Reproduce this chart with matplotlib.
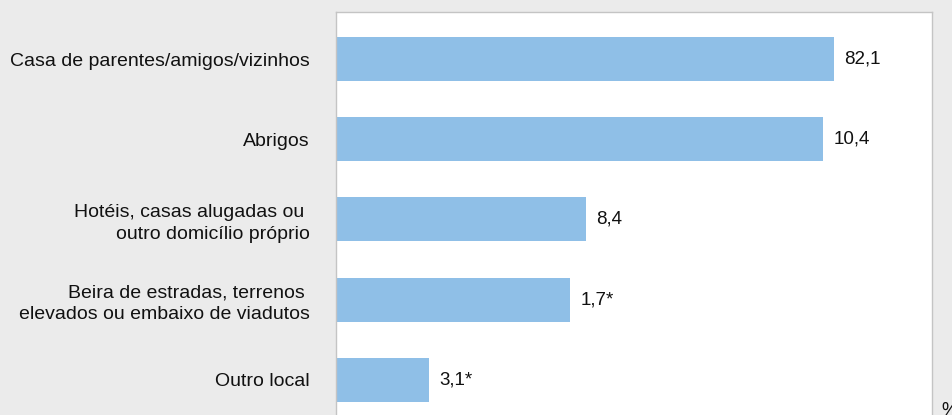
import matplotlib
matplotlib.use("Agg")
import matplotlib.pyplot as plt

# categories and the printed values (Portuguese decimal comma, * = low precision)
categories = [
    "Casa de parentes/amigos/vizinhos",
    "Abrigos",
    "Hotéis, casas alugadas ou \noutro domicílio próprio",
    "Beira de estradas, terrenos \nelevados ou embaixo de viadutos",
    "Outro local",
]
values = [82.1, 10.4, 8.4, 1.7, 3.1]
value_labels = ["82,1", "10,4", "8,4", "1,7*", "3,1*"]
# the source chart is not drawn to scale: bar lengths as they appear (axis 0-100)
bar_lengths = [83.5, 81.7, 41.9, 39.3, 15.6]

BG = "#ebebeb"
BAR = "#8fbfe7"

plt.rcParams["font.family"] = ["Liberation Sans", "DejaVu Sans"]

fig = plt.figure(figsize=(9.53, 4.15), dpi=100, facecolor=BG)
ax = fig.add_axes([0.3526, -0.060, 0.6254, 1.031])
ax.set_facecolor("white")

y = list(range(len(categories)))
ax.barh(y, bar_lengths, height=0.55, color=BAR)

for yi, length, lab in zip(y, bar_lengths, value_labels):
    ax.text(length + 1.8, yi, lab, va="center", ha="left", fontsize=13.5, color="#111111")

ax.set_xlim(0, 100)
ax.set_ylim(4.75, -0.5875)
ax.set_xticks([])
ax.set_yticks(y)
ax.set_yticklabels(categories, fontsize=14, color="#111111", linespacing=1.35)
ax.tick_params(axis="y", length=0, pad=19)

for s in ax.spines.values():
    s.set_color("#c4c4c4")
    s.set_linewidth(1.0)

fig.text(0.988, 0.031, "%", ha="left", va="top", fontsize=13.5, color="#111111")

fig.savefig("out.png", dpi=100, facecolor=BG)
